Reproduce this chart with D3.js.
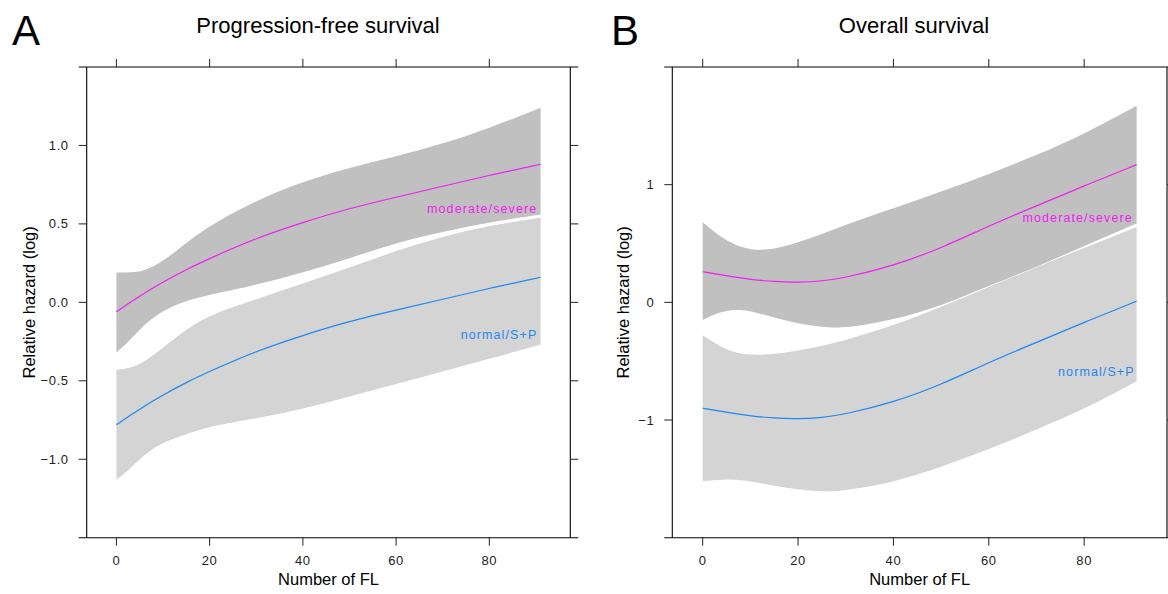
<!DOCTYPE html>
<html>
<head>
<meta charset="utf-8">
<script src="https://cdn.jsdelivr.net/npm/d3@7"></script>
<style>
  html, body { margin: 0; padding: 0; background: #fff; }
  svg { display: block; font-family: "Liberation Sans", Arial, Helvetica, sans-serif; }
</style>
</head>
<body>
<svg id="chart" width="1168" height="594"></svg>
<script>
// ---------- data ----------
const panelLetters = ["A", "B"];
const panelTitles = ["Progression-free survival", "Overall survival"];
const xLabel = "Number of FL";
const yLabel = "Relative hazard (log)";
const groupNames = ["moderate/severe", "normal/S+P"];
const xTicks = [0, 20, 40, 60, 80];
const yTicksA = [-1.0, -0.5, 0.0, 0.5, 1.0];
const yTicksB = [-1, 0, 1];

// Panel A: Progression-free survival
const xA = [0, 3, 6, 10, 15, 20, 30, 40, 50, 60, 70, 80, 91];
const modFitA   = [-0.06, 0.00, 0.06, 0.13, 0.21, 0.28, 0.41, 0.51, 0.60, 0.67, 0.74, 0.81, 0.88];
const modUpperA = [0.19, 0.19, 0.20, 0.26, 0.38, 0.49, 0.65, 0.77, 0.86, 0.93, 1.01, 1.11, 1.24];
const modLowerA = [-0.32, -0.24, -0.14, -0.05, 0.01, 0.05, 0.11, 0.19, 0.28, 0.38, 0.45, 0.51, 0.56];
const normFitA   = [-0.78, -0.72, -0.66, -0.59, -0.51, -0.44, -0.31, -0.21, -0.12, -0.05, 0.02, 0.09, 0.16];
const normUpperA = [-0.43, -0.42, -0.38, -0.29, -0.17, -0.08, 0.02, 0.12, 0.22, 0.33, 0.42, 0.49, 0.54];
const normLowerA = [-1.13, -1.06, -0.97, -0.89, -0.84, -0.79, -0.74, -0.68, -0.60, -0.52, -0.44, -0.36, -0.27];

// Panel B: Overall survival
const xB = [0, 3, 6, 10, 15, 20, 25, 30, 40, 50, 60, 70, 80, 91];
const modFitB   = [0.26, 0.24, 0.22, 0.195, 0.175, 0.17, 0.18, 0.21, 0.31, 0.46, 0.65, 0.82, 0.99, 1.17];
const modUpperB = [0.68, 0.58, 0.50, 0.44, 0.45, 0.51, 0.58, 0.66, 0.80, 0.94, 1.09, 1.25, 1.43, 1.67];
const modLowerB = [-0.15, -0.09, -0.06, -0.07, -0.13, -0.18, -0.21, -0.22, -0.15, -0.03, 0.14, 0.30, 0.48, 0.67];
const normFitB   = [-0.90, -0.92, -0.94, -0.965, -0.985, -0.99, -0.98, -0.95, -0.85, -0.70, -0.51, -0.34, -0.17, 0.01];
const normUpperB = [-0.28, -0.36, -0.42, -0.45, -0.44, -0.41, -0.37, -0.32, -0.20, -0.04, 0.13, 0.30, 0.46, 0.64];
const normLowerB = [-1.52, -1.51, -1.50, -1.52, -1.56, -1.59, -1.61, -1.60, -1.53, -1.40, -1.25, -1.08, -0.91, -0.67];

// ---------- layout / styles ----------
const svg = d3.select("#chart");
const colModBand = "#c0c0c0", colNormBand = "#d4d4d4";
const colMod = "#f020f0", colNorm = "#1e88f0";
const xDomain = [-6.37, 97.37];

const panels = [
  { letter: panelLetters[0], title: panelTitles[0], left: 86.7, right: 570.3, yDomain: [-1.5, 1.5],
    yTicks: yTicksA, fmt: d3.format(".1f"), x: xA,
    mod: [modFitA, modLowerA, modUpperA], norm: [normFitA, normLowerA, normUpperA],
    letterX: 12, titleX: 318, yLabelX: 35,
    modLab: [90.3, 0.595], normLab: [90.3, -0.208] },
  { letter: panelLetters[1], title: panelTitles[1], left: 672.3, right: 1167, yDomain: [-2, 2],
    yTicks: yTicksB, fmt: d3.format("d"), x: xB,
    mod: [modFitB, modLowerB, modUpperB], norm: [normFitB, normLowerB, normUpperB],
    letterX: 611, titleX: 914, yLabelX: 629,
    modLab: [90.2, 0.725], normLab: [90.6, -0.585] }
];
const yTop = 67, yBottom = 537.7, tickLen = 8, ext = 8;
const curve = d3.curveBasis;

function fmtMinus(s) { return s.replace("-", "\u2212"); }

panels.forEach(p => {
  const x = d3.scaleLinear().domain(xDomain).range([p.left, p.right]);
  const y = d3.scaleLinear().domain(p.yDomain).range([yBottom, yTop]);
  const g = svg.append("g");

  const area = d3.area().x(d => x(d.x)).y0(d => y(d.lo)).y1(d => y(d.hi)).curve(curve);
  const line = d3.line().x(d => x(d.x)).y(d => y(d.v)).curve(curve);
  const bandData = arr => p.x.map((xv, i) => ({ x: xv, lo: arr[1][i], hi: arr[2][i] }));
  const lineData = arr => p.x.map((xv, i) => ({ x: xv, v: arr[0][i] }));

  // bands: moderate first, normal over it
  g.append("path").datum(bandData(p.mod)).attr("d", area).attr("fill", colModBand);
  g.append("path").datum(bandData(p.norm)).attr("d", area).attr("fill", colNormBand);
  g.append("path").datum(lineData(p.mod)).attr("d", line).attr("fill", "none")
    .attr("stroke", colMod).attr("stroke-width", 1.2);
  g.append("path").datum(lineData(p.norm)).attr("d", line).attr("fill", "none")
    .attr("stroke", colNorm).attr("stroke-width", 1.2);

  // in-panel labels
  g.append("text").attr("x", x(p.modLab[0])).attr("y", y(p.modLab[1]) + 4.5)
    .attr("text-anchor", "end").attr("font-size", 12.5).attr("letter-spacing", 1.1)
    .attr("fill", colMod).text(groupNames[0]);
  g.append("text").attr("x", x(p.normLab[0])).attr("y", y(p.normLab[1]) + 4.5)
    .attr("text-anchor", "end").attr("font-size", 12.5).attr("letter-spacing", 1.1)
    .attr("fill", colNorm).text(groupNames[1]);

  // frame
  const fr = g.append("g").attr("stroke", "#000").attr("stroke-width", 1.1);
  fr.append("line").attr("x1", p.left - ext).attr("x2", p.right + ext).attr("y1", yTop).attr("y2", yTop);
  fr.append("line").attr("x1", p.left - ext).attr("x2", p.right + ext).attr("y1", yBottom).attr("y2", yBottom);
  fr.append("line").attr("x1", p.left).attr("x2", p.left).attr("y1", yTop).attr("y2", yBottom);
  fr.append("line").attr("x1", p.right).attr("x2", p.right).attr("y1", yTop).attr("y2", yBottom);

  // ticks
  const tk = g.append("g").attr("stroke", "#222").attr("stroke-width", 1);
  xTicks.forEach(t => {
    tk.append("line").attr("x1", x(t)).attr("x2", x(t)).attr("y1", yBottom).attr("y2", yBottom + tickLen);
    tk.append("line").attr("x1", x(t)).attr("x2", x(t)).attr("y1", yTop).attr("y2", yTop - tickLen);
    g.append("text").attr("x", x(t)).attr("y", yBottom + 27).attr("text-anchor", "middle")
      .attr("font-size", 13).attr("letter-spacing", 0.6).attr("fill", "#222").text(d3.format("d")(t));
  });
  p.yTicks.forEach(t => {
    tk.append("line").attr("x1", p.left - tickLen).attr("x2", p.left).attr("y1", y(t)).attr("y2", y(t));
    tk.append("line").attr("x1", p.right).attr("x2", p.right + tickLen).attr("y1", y(t)).attr("y2", y(t));
    g.append("text").attr("x", p.left - 18).attr("y", y(t) + 4.5).attr("text-anchor", "end")
      .attr("font-size", 13).attr("letter-spacing", 0.6).attr("fill", "#222").text(fmtMinus(p.fmt(t)));
  });

  // axis titles
  g.append("text").attr("x", (p.left + p.right) / 2).attr("y", 585).attr("text-anchor", "middle")
    .attr("font-size", 16.5).attr("fill", "#000").text(xLabel);
  g.append("text").attr("transform", `translate(${p.yLabelX},${(yTop + yBottom) / 2}) rotate(-90)`)
    .attr("text-anchor", "middle").attr("font-size", 16.5).attr("fill", "#000").text(yLabel);

  // panel title and letter
  g.append("text").attr("x", p.titleX).attr("y", 33).attr("text-anchor", "middle")
    .attr("font-size", 22).attr("fill", "#000").text(p.title);
  g.append("text").attr("x", p.letterX).attr("y", 45).attr("font-size", 42)
    .attr("fill", "#000").text(p.letter);
});
</script>
</body>
</html>
